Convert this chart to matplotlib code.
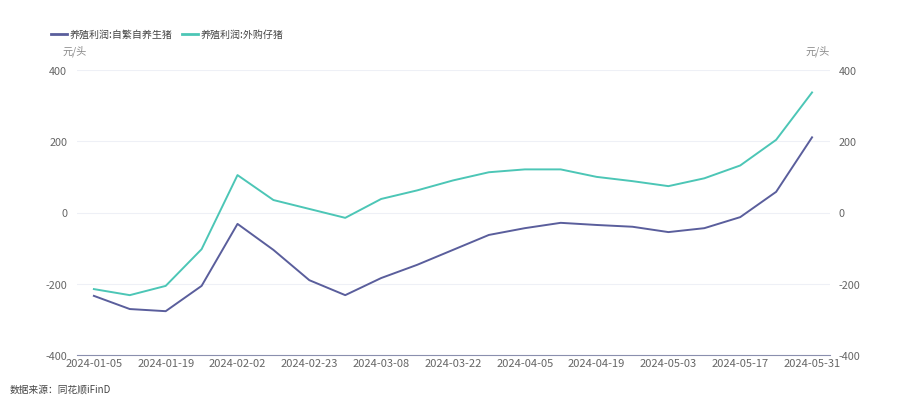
import matplotlib
matplotlib.use("Agg")
import matplotlib.pyplot as plt
from matplotlib.lines import Line2D

plt.rcParams['font.family'] = ['Noto Sans CJK SC', 'DejaVu Sans']

dates = ["2024-01-05", "2024-01-12", "2024-01-19", "2024-01-26", "2024-02-02",
         "2024-02-09", "2024-02-23", "2024-03-01", "2024-03-08", "2024-03-15",
         "2024-03-22", "2024-03-29", "2024-04-05", "2024-04-12", "2024-04-19",
         "2024-04-26", "2024-05-03", "2024-05-10", "2024-05-17", "2024-05-24",
         "2024-05-31"]
self_bred = [-234, -271, -277, -206, -32, -105, -190, -232, -184, -147,
             -105, -63, -44, -29, -35, -40, -55, -44, -13, 58, 211]
bought_piglet = [-215, -232, -206, -103, 105, 35, 10, -15, 38, 62,
                 90, 113, 121, 121, 100, 88, 74, 96, 132, 204, 337]
series_names = ["养殖利润:自繁自养生猪", "养殖利润:外购仔猪"]
yticks = [-400, -200, 0, 200, 400]

c1 = "#5a5e9c"
c2 = "#4cc6b6"
txt = "#666666"

fig = plt.figure(figsize=(9.06, 4.10), dpi=100)
ax = fig.add_axes([77/906, 1-356/410, (830-77)/906, (356-71)/410])
x = list(range(len(dates)))
ax.plot(x, self_bred, color=c1, lw=1.4, solid_joinstyle='round')
ax.plot(x, bought_piglet, color=c2, lw=1.4, solid_joinstyle='round')

ax.set_ylim(-400, 400)
ax.set_xlim(-0.47, len(dates) - 1 + 0.5)
ax.set_yticks(yticks)
ax.set_yticklabels([str(v) for v in yticks])
ax.tick_params(axis='y', length=0, labelsize=7.8, labelcolor=txt, pad=7)
ax.set_xticks(x[::2])
ax.set_xticklabels(dates[::2])
ax.tick_params(axis='x', length=0, labelsize=8, labelcolor=txt, pad=2)
for v in yticks[1:]:
    ax.axhline(v, color="#eef0f6", lw=0.8, zorder=0)
for s in ['top', 'right', 'left']:
    ax.spines[s].set_visible(False)
ax.spines['bottom'].set_color("#8a8fae")
ax.spines['bottom'].set_linewidth(0.8)

ax2 = ax.twinx()
ax2.set_ylim(-400, 400)
ax2.set_yticks(yticks)
ax2.set_yticklabels([str(v) for v in yticks])
ax2.tick_params(axis='y', length=0, labelsize=7.8, labelcolor=txt, pad=6)
for s in ['top', 'right', 'left', 'bottom']:
    ax2.spines[s].set_visible(False)

fig.text(75/906, 1-51/410, "元/头", fontsize=7.3, color="#888888", ha='center', va='center')
fig.text(818/906, 1-51/410, "元/头", fontsize=7.3, color="#888888", ha='center', va='center')

handles = [Line2D([0], [0], color=c1, lw=2), Line2D([0], [0], color=c2, lw=2)]
fig.legend(handles, series_names, loc='center left', bbox_to_anchor=(42/906, 1-35/410),
           ncol=2, frameon=False, fontsize=7.2, labelcolor="#444444",
           handlelength=1.6, handletextpad=0.3, columnspacing=0.9)

fig.text(10/906, 1-390/410, "数据来源：同花顺iFinD", fontsize=7, color="#444444", ha='left', va='center')

fig.savefig("out.png", dpi=100)
